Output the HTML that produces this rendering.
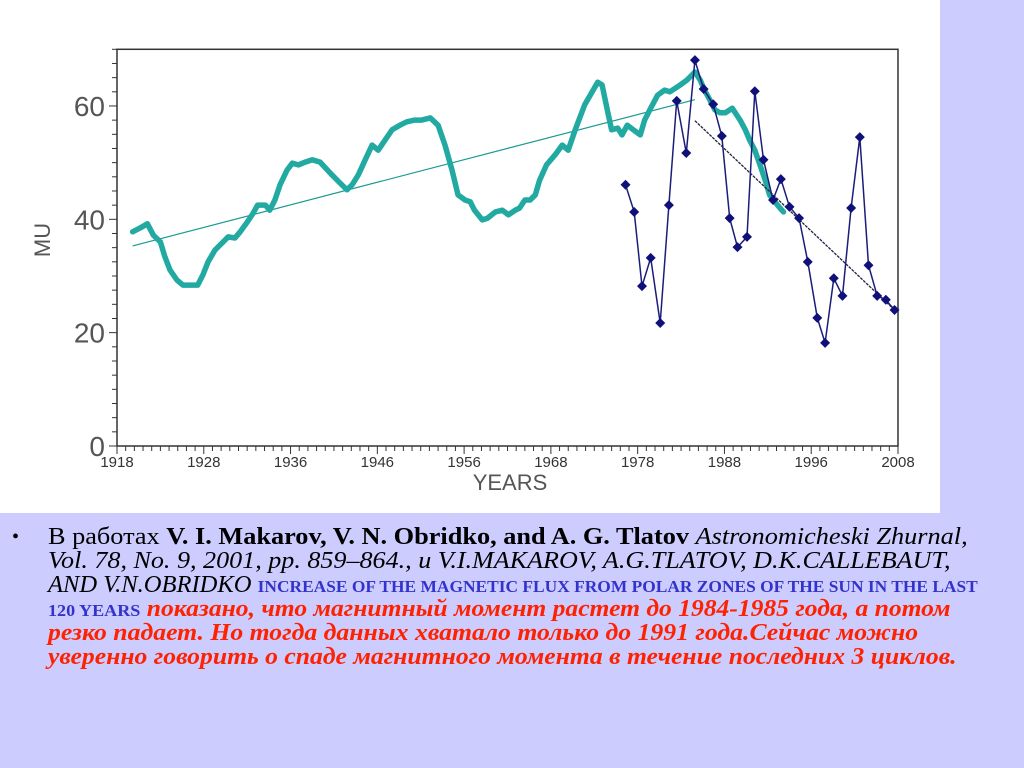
<!DOCTYPE html>
<html><head><meta charset="utf-8">
<style>
body{margin:0;width:1024px;height:768px;background:#ccccff;position:relative;overflow:hidden;font-family:"Liberation Serif",serif}
#chart{position:absolute;left:0;top:0}
.ln{position:absolute;left:48px;white-space:nowrap;font-size:24px;line-height:24px;transform-origin:0 0;color:#000;font-family:"Liberation Serif",serif}
.blue{color:#3333cc;font-weight:bold;font-size:17px}
.red{color:#ff2200;font-weight:bold;font-style:italic}
</style></head><body>
<svg id="chart" width="940" height="513" xmlns="http://www.w3.org/2000/svg">
<rect x="0" y="0" width="940" height="513" fill="#ffffff"/>
<g id="g"></g>
</svg>
<div style="position:absolute;left:12px;top:526px;font-size:20px">•</div>
<div class="ln" data-w="920" style="top:525px">В работах <b>V. I. Makarov, V. N. Obridko, and A. G. Tlatov</b> <i>Astronomicheski Zhurnal,</i></div>
<div class="ln" data-w="903" style="top:549px"><i>Vol. 78, No. 9, 2001, pp. 859–864., и V.I.MAKAROV, A.G.TLATOV, D.K.CALLEBAUT,</i></div>
<div class="ln" data-w="930" style="top:573px"><i>AND V.N.OBRIDKO</i> <span class="blue">INCREASE OF THE MAGNETIC FLUX FROM POLAR ZONES OF THE SUN IN THE LAST</span></div>
<div class="ln" data-w="902" style="top:597px"><span class="blue">120 YEARS</span> <span class="red">показано, что магнитный момент растет до 1984-1985 года, а потом</span></div>
<div class="ln red" data-w="870" style="top:621px">резко падает. Но тогда данных хватало только до 1991 года.Сейчас можно</div>
<div class="ln red" data-w="909" style="top:645px">уверенно говорить о спаде магнитного момента в течение последних 3 циклов.</div>
<script>
const xTickLabels=["1918","1928","1936","1946","1956","1968","1978","1988","1996","2008"];
const yTicks=[0,20,40,60];
const cyanYears=[1919.8,1920.7,1921.5,1922.2,1923.0,1923.5,1924.1,1924.9,1925.6,1926.4,1927.3,1927.9,1928.5,1929.3,1930.1,1930.8,1931.6,1932.2,1933.0,1933.7,1934.2,1935.1,1935.6,1936.2,1936.8,1937.6,1938.2,1938.9,1939.7,1940.5,1941.4,1942.0,1942.8,1943.7,1944.5,1945.1,1945.8,1946.6,1947.4,1948.1,1948.9,1949.7,1950.6,1951.4,1952.3,1953.1,1954.1,1955.0,1955.8,1956.6,1957.3,1958.1,1958.7,1959.2,1960.1,1960.7,1961.6,1962.4,1963.1,1963.9,1964.4,1965.0,1965.6,1966.2,1966.7,1967.5,1968.5,1969.3,1970.0,1970.8,1971.9,1973.4,1973.9,1974.5,1975.0,1975.7,1976.2,1976.8,1977.5,1978.3,1978.8,1979.4,1980.3,1981.1,1981.7,1982.9,1983.7,1984.6,1985.2,1985.7,1986.3,1986.9,1987.5,1988.1,1988.9,1989.8,1990.4,1990.9,1991.5,1992.1,1992.7,1993.2,1993.8,1994.4,1994.8];
const cyanValues=[37.8,38.5,39.2,37.2,36.0,33.5,31.1,29.3,28.4,28.4,28.4,30.2,32.5,34.6,35.8,36.9,36.7,37.8,39.5,41.1,42.5,42.5,41.6,43.4,46.1,48.7,49.9,49.6,50.1,50.5,50.1,49.1,47.8,46.4,45.2,46.1,47.8,50.5,53.1,52.2,54.0,55.8,56.6,57.2,57.5,57.5,57.9,56.6,53.1,48.7,44.3,43.4,43.1,41.6,39.9,40.2,41.3,41.6,40.8,41.6,42.0,43.4,43.4,44.3,46.9,49.6,51.4,53.1,52.2,55.8,60.2,64.2,63.7,59.3,55.8,56.1,54.9,56.6,55.8,54.9,57.5,59.3,61.9,62.8,62.5,63.7,64.6,66.0,64.6,62.8,61.1,59.3,58.8,58.8,59.6,57.5,55.8,54.0,52.2,49.6,46.9,44.3,43.1,42.0,41.3];
const blueYears=[1976.6,1977.6,1978.5,1979.5,1980.6,1981.6,1982.5,1983.6,1984.6,1985.6,1986.7,1987.7,1988.6,1989.5,1990.6,1991.5,1992.5,1993.6,1994.5,1995.5,1996.6,1997.6,1998.7,1999.6,2000.6,2001.6,2002.6,2003.6,2004.6,2005.6,2006.6,2007.6];
const blueValues=[46.1,41.3,28.2,33.2,21.7,42.5,60.9,51.7,68.1,63.0,60.3,54.7,40.2,35.1,36.9,62.6,50.5,43.4,47.1,42.2,40.2,32.5,22.6,18.2,29.6,26.5,42.0,54.5,31.9,26.5,25.8,24.0];
const trend1Years=[1919.8,1984.6], trend1Values=[35.3,61.1];
const trend2Years=[1984.6,2007.6], trend2Values=[57.4,24.0];

const X0=117,X1=898,Y0=446,Y1=49.3;
const sx=y=>X0+(y-1918)/(2008-1918)*(X1-X0);
const sy=v=>Y0-v/70*(Y0-Y1);
const g=document.getElementById('g');
const NS="http://www.w3.org/2000/svg";
function mk(t,a){const e=document.createElementNS(NS,t);for(const k in a)e.setAttribute(k,a[k]);g.appendChild(e);return e;}
let e=mk('rect',{x:X0,y:Y1,width:X1-X0,height:Y0-Y1,fill:'none',stroke:'#333','stroke-width':1.5});


for(let v=0;v<=70;v+=2.5){const l=mk('line',{x1:X0-(v%20===0?8:5),x2:X0,y1:sy(v),y2:sy(v),stroke:'#333'});

}
yTicks.forEach(v=>{const t=mk('text',{x:X0-12,y:sy(v)+10,'text-anchor':'end','font-size':28,fill:'#555','font-family':'Liberation Sans, sans-serif'});t.textContent=v;

});
for(let i=0;i<=90;i++){const x=sx(1918+i);const l=mk('line',{x1:x,x2:x,y1:Y0,y2:Y0+(i%10===0?8:5),stroke:'#333'});

}
xTickLabels.forEach((s,i)=>{const t=mk('text',{x:sx(1918+i*10),y:Y0+21,'text-anchor':'middle','font-size':15,fill:'#333','font-family':'Liberation Sans, sans-serif'});t.textContent=s;

});
e=mk('text',{x:510,y:490,'text-anchor':'middle','font-size':22,fill:'#555','font-family':'Liberation Sans, sans-serif'});e.textContent='YEARS';


e=mk('text',{x:0,y:0,'text-anchor':'middle','font-size':22,fill:'#555','font-family':'Liberation Sans, sans-serif',transform:'translate(50,240) rotate(-90)'});e.textContent='MU';


function path(xs,vs){return xs.map((x,i)=>(i?'L':'M')+sx(x).toFixed(1)+','+sy(vs[i]).toFixed(1)).join('');}
e=mk('path',{d:path(trend1Years,trend1Values),stroke:'#1a9a90','stroke-width':1.2,fill:'none'});


e=mk('path',{d:path(cyanYears,cyanValues),stroke:'#22aaa2','stroke-width':5.5,fill:'none','stroke-linejoin':'round','stroke-linecap':'round'});


e=mk('path',{d:path(trend2Years,trend2Values),stroke:'#222244','stroke-width':1.3,fill:'none','stroke-dasharray':'3,1'});


e=mk('path',{d:path(blueYears,blueValues),stroke:'#1c1c7a','stroke-width':1.5,fill:'none'});


blueYears.forEach((y,i)=>{const x=sx(y),v=sy(blueValues[i]);const m=mk('path',{d:`M${x},${v-5}L${x+5},${v}L${x},${v+5}L${x-5},${v}Z`,fill:'#10107a'});

});
document.querySelectorAll('.ln').forEach(d=>{const w=d.scrollWidth;d.style.transform='scaleX('+(+d.dataset.w/w)+')';});
</script>
</body></html>
